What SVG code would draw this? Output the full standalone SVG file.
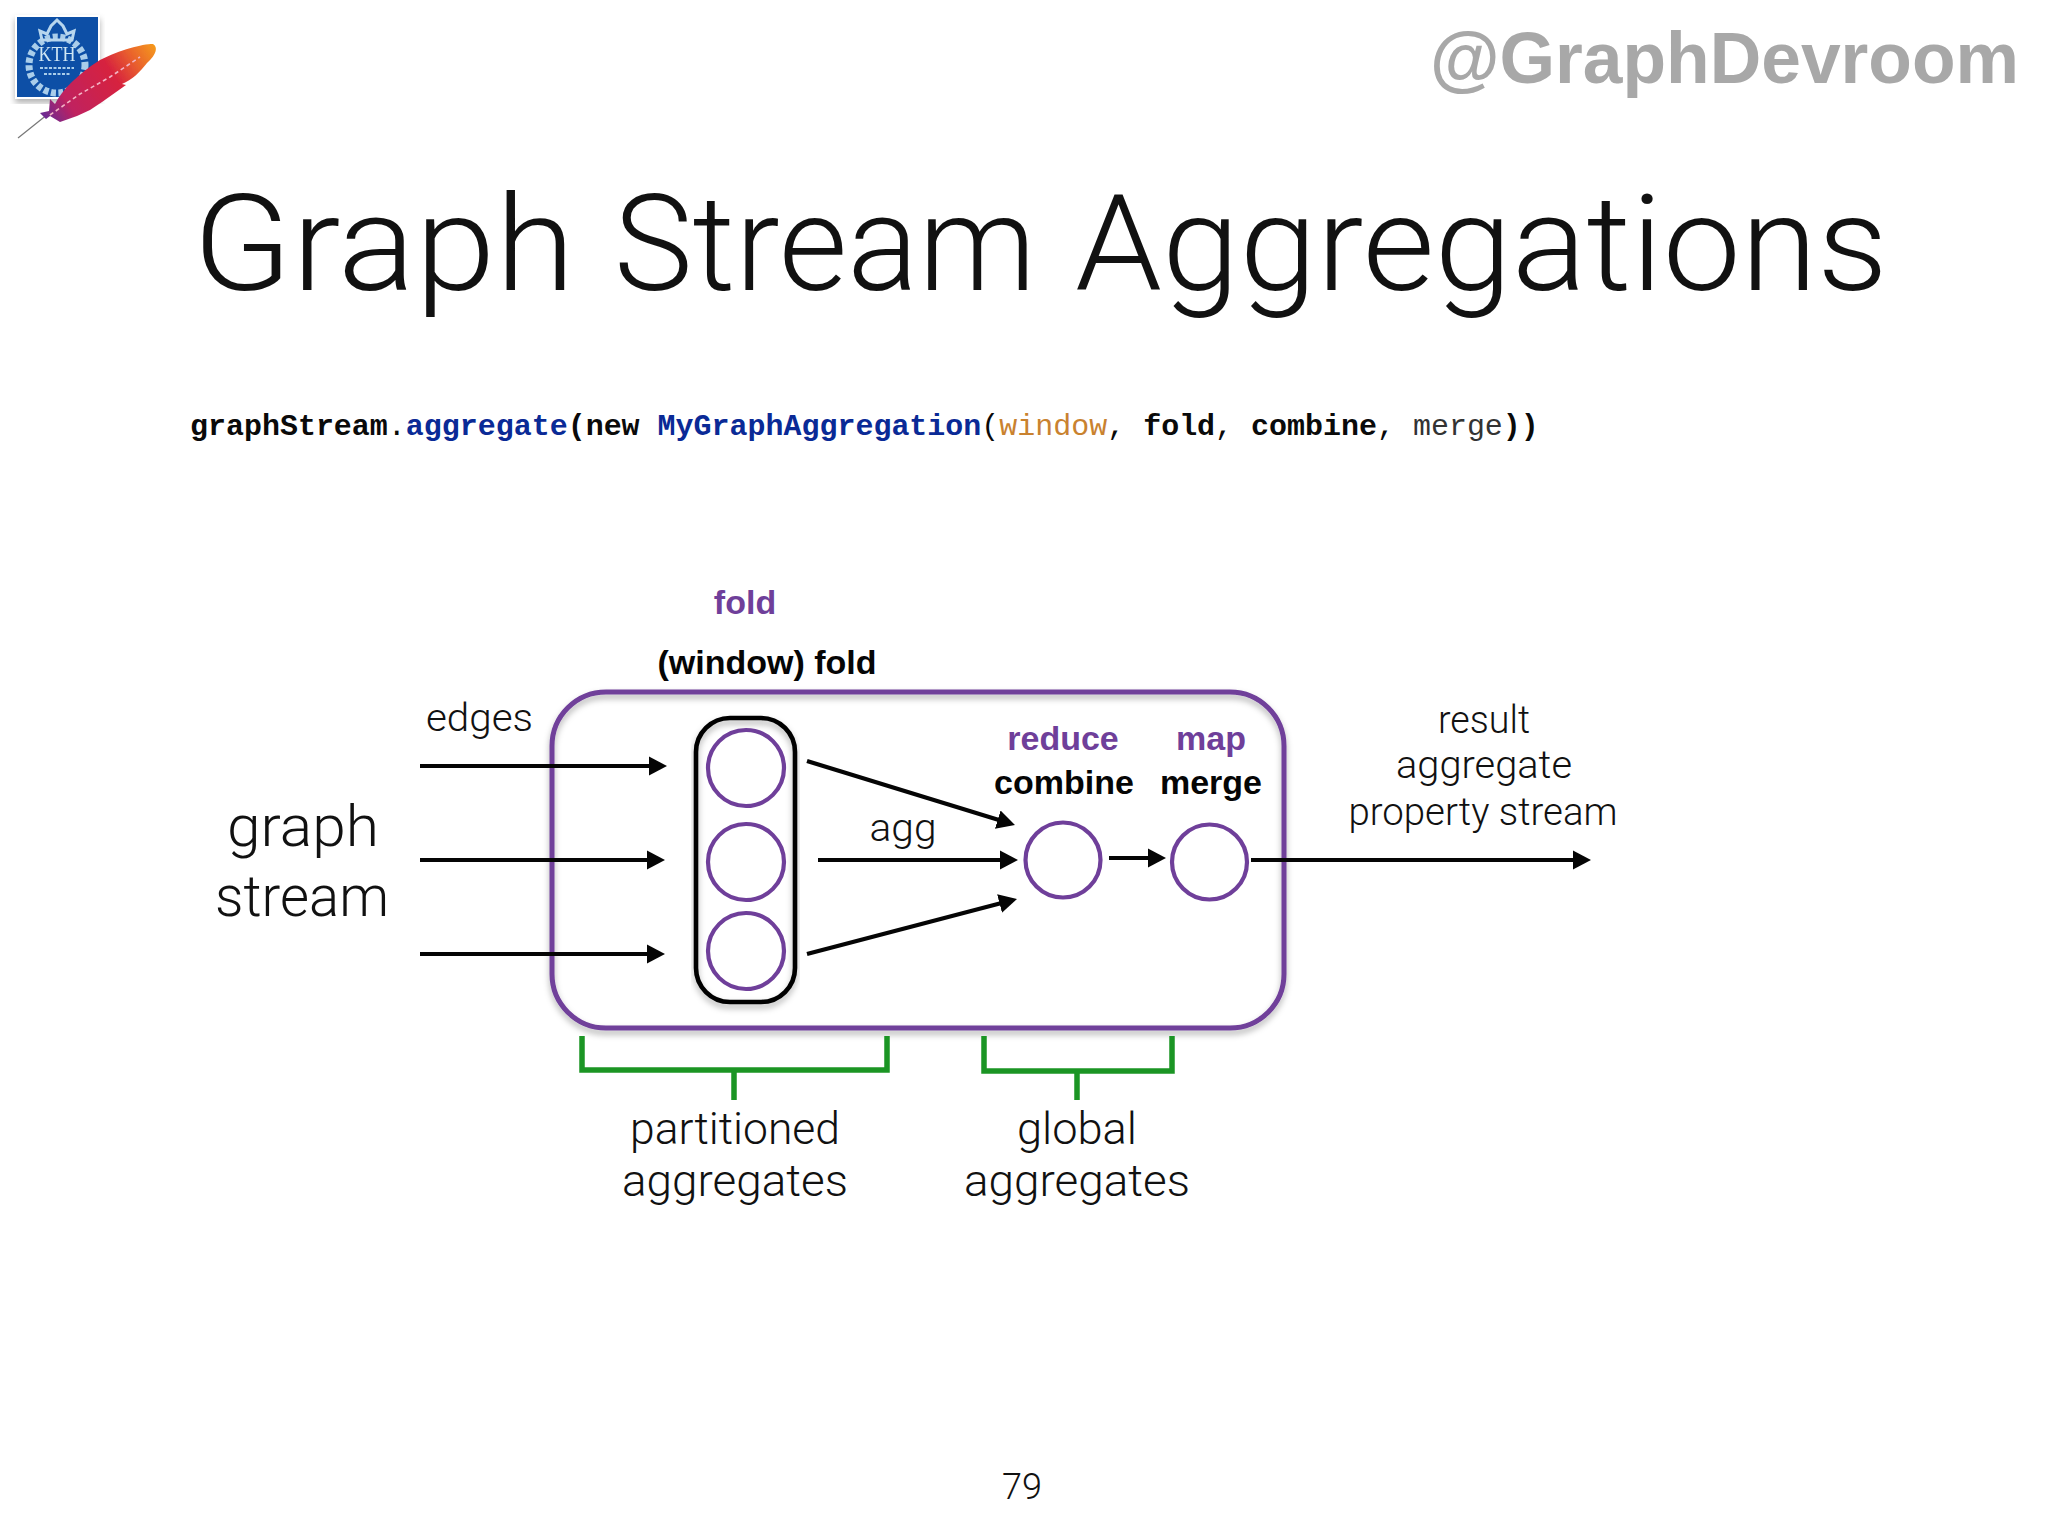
<svg xmlns="http://www.w3.org/2000/svg" width="2048" height="1536" viewBox="0 0 2048 1536">
<style>
.l{font-family:Roboto,"Liberation Sans",sans-serif;font-weight:300;fill:#111}
.b{font-family:"Liberation Sans",Arial,sans-serif;font-weight:700;font-size:34px;text-anchor:middle;fill:#050505}
.p{fill:#6f3f9a}
.m{text-anchor:middle}
.c{fill:#fff;stroke:#6f3f9a;stroke-width:4.2}
.a{fill:none;stroke:#050505;stroke-width:4.2}
.g{fill:none;stroke:#1b9524;stroke-width:5.5}
.code{font-family:"Liberation Mono",monospace;font-size:29.98px;font-weight:700;fill:#0a0a0a}
.r{font-weight:400}
</style>
<defs>
<marker id="ah" markerUnits="userSpaceOnUse" markerWidth="20" markerHeight="22" refX="8" refY="10" orient="auto"><path d="M0 0.5L18 10L0 19.5z" fill="#050505"/></marker>
<filter id="sh" x="-5%" y="-5%" width="110%" height="110%"><feDropShadow dx="0" dy="4" stdDeviation="3" flood-color="#000" flood-opacity=".3"/></filter>
<filter id="soft"><feGaussianBlur stdDeviation=".6"/></filter>
<linearGradient id="fe" gradientUnits="userSpaceOnUse" x1="155" y1="45" x2="47" y2="118"><stop offset="0" stop-color="#f59a1d"/><stop offset=".2" stop-color="#e9602d"/><stop offset=".4" stop-color="#d6203f"/><stop offset=".8" stop-color="#c0215f"/><stop offset="1" stop-color="#6f2b90"/></linearGradient>
</defs>
<rect width="2048" height="1536" fill="#fff"/>

<g id="logo" filter="url(#soft)">
<rect x="15" y="15" width="85" height="84" fill="#fff" filter="url(#sh)"/>
<rect x="17" y="17" width="81" height="80" fill="#0b4fa6"/>
<circle cx="57" cy="65" r="28" fill="none" stroke="#a9cdea" stroke-width="7" stroke-dasharray="5 2.5"/>
<path d="M42 40l-2-9 7 3 4-8 6-6 6 6 4 8 7-3-2 9z" fill="none" stroke="#b7d6ee" stroke-width="3"/>
<text x="57" y="61" font-family="'Liberation Serif',serif" font-size="22" text-anchor="middle" fill="#cfe6f4" textLength="37" lengthAdjust="spacingAndGlyphs">KTH</text>
<path d="M40 68H74M44 74H70" stroke="#a9cdea" stroke-width="2" stroke-dasharray="3 1.5" fill="none"/>
<path d="M18 138L48 114" stroke="#777" stroke-width="1.2" fill="none"/>
<path d="M40 113L49 111 50 99 55 104C62 90 78 74 100 60 120 50 142 44 153 44 158 47 157 54 147 63 140 72 132 80 122 84L126 85 102 102 90 110 77 116 60 122 50 116 46 119z" fill="url(#fe)"/>
<path d="M50 115L80 94 110 77 140 57" fill="none" stroke="#f2b3c4" stroke-width="1.6" stroke-dasharray="4 3"/>
</g>

<text id="handle" x="1430" y="83" font-family="'Liberation Sans',Arial,sans-serif" font-weight="700" font-size="72" fill="#a8a8a8" textLength="589" lengthAdjust="spacingAndGlyphs">@GraphDevroom</text>
<text id="title" class="l" y="290" font-size="133"><tspan x="193" textLength="382" lengthAdjust="spacingAndGlyphs">Graph</tspan> <tspan x="614" textLength="422" lengthAdjust="spacingAndGlyphs">Stream</tspan> <tspan x="1075" textLength="813" lengthAdjust="spacingAndGlyphs">Aggregations</tspan></text>
<text id="code" class="code" x="190" y="435" xml:space="preserve">graphStream<tspan class="r">.</tspan><tspan fill="#0a2a96">aggregate</tspan>(new <tspan fill="#0a2a96">MyGraphAggregation</tspan><tspan class="r">(</tspan><tspan class="r" fill="#c9822f">window</tspan><tspan class="r">,</tspan> fold<tspan class="r">,</tspan> combine<tspan class="r">,</tspan> <tspan class="r" fill="#333">merge</tspan>))</text>

<g id="aggregation-box"><rect x="552" y="692" width="732" height="336" rx="54" fill="none" stroke="#6f3f9a" stroke-width="5" filter="url(#sh)"/></g>

<g id="connectors">
<path class="a" d="M420 766H657" marker-end="url(#ah)"/>
<path class="a" d="M420 860H655" marker-end="url(#ah)"/>
<path class="a" d="M420 954H655" marker-end="url(#ah)"/>
<path class="a" d="M807 761L1005.4 822" marker-end="url(#ah)"/>
<path class="a" d="M818 860H1008" marker-end="url(#ah)"/>
<path class="a" d="M807 954L1007.3 901.5" marker-end="url(#ah)"/>
<path class="a" d="M1109 858H1156" marker-end="url(#ah)"/>
<path class="a" d="M1251 860H1581" marker-end="url(#ah)"/>
</g>

<g id="window-pill"><rect x="696" y="718" width="99" height="284" rx="34" fill="none" stroke="#050505" stroke-width="4.6" filter="url(#sh)"/></g>
<g id="partition-1"><circle class="c" cx="746" cy="768" r="38"/></g>
<g id="partition-2"><circle class="c" cx="746" cy="862" r="38"/></g>
<g id="partition-3"><circle class="c" cx="746" cy="951" r="38"/></g>
<g id="reduce-node"><circle class="c" cx="1063" cy="860" r="37.5"/></g>
<g id="map-node"><circle class="c" cx="1209.5" cy="862" r="37.5"/></g>

<g id="bracket-partitioned"><path class="g" d="M582 1036V1070H887V1036M734 1070V1100"/></g>
<g id="bracket-global"><path class="g" d="M984 1036V1071H1172V1036M1077 1071V1100"/></g>

<g id="labels">
<text class="b p" x="745" y="614">fold</text>
<text class="b" x="767" y="674">(window) fold</text>
<text class="b p" x="1063" y="750">reduce</text>
<text class="b p" x="1211" y="750">map</text>
<text class="b" x="1064" y="794">combine</text>
<text class="b" x="1211" y="794">merge</text>
<text class="l" x="426" y="731" font-size="38" textLength="107" lengthAdjust="spacingAndGlyphs">edges</text>
<text class="l m" x="303" y="846" font-size="58" textLength="152" lengthAdjust="spacingAndGlyphs">graph</text>
<text class="l m" x="302" y="916" font-size="58" textLength="174" lengthAdjust="spacingAndGlyphs">stream</text>
<text class="l m" x="903" y="841" font-size="38" textLength="67" lengthAdjust="spacingAndGlyphs">agg</text>
<text class="l m" x="1484" y="733" font-size="38" textLength="92" lengthAdjust="spacingAndGlyphs">result</text>
<text class="l m" x="1484" y="778" font-size="38" textLength="176" lengthAdjust="spacingAndGlyphs">aggregate</text>
<text class="l m" x="1483" y="825" font-size="38" textLength="269" lengthAdjust="spacingAndGlyphs">property stream</text>
<text class="l m" x="735" y="1144" font-size="44" textLength="210" lengthAdjust="spacingAndGlyphs">partitioned</text>
<text class="l m" x="735" y="1196" font-size="44" textLength="226" lengthAdjust="spacingAndGlyphs">aggregates</text>
<text class="l m" x="1077" y="1144" font-size="44" textLength="120" lengthAdjust="spacingAndGlyphs">global</text>
<text class="l m" x="1077" y="1196" font-size="44" textLength="226" lengthAdjust="spacingAndGlyphs">aggregates</text>
<text class="l m" x="1022" y="1499" font-size="36">79</text>
</g>
</svg>
